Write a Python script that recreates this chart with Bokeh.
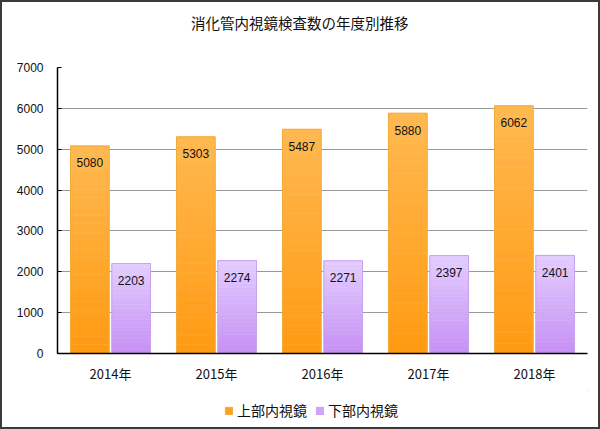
from bokeh.plotting import figure
from bokeh.layouts import column
from bokeh.models import (FactorRange, Range1d, ColumnDataSource, LabelSet, Label, Legend,
                          LegendItem, FixedTicker, GlobalInlineStyleSheet)
from bokeh.core.properties import value
from bokeh.transform import dodge
from bokeh.embed import file_html
from bokeh.resources import INLINE

# ---- data ----
years = ["2014年", "2015年", "2016年", "2017年", "2018年"]
upper = [5080, 5303, 5487, 5880, 6062]
lower = [2203, 2274, 2271, 2397, 2401]
series_names = ["上部内視鏡", "下部内視鏡"]
y_ticks = [0, 1000, 2000, 3000, 4000, 5000, 6000, 7000]
title_text = "消化管内視鏡検査数の年度別推移"

JP = "Noto Sans CJK JP"
LAT = "Liberation Sans"

# ---- title strip ----
p0 = figure(x_range=Range1d(0, 1), y_range=Range1d(0, 1), width=596, height=40,
            output_backend="svg", toolbar_location=None, x_axis_type=None, y_axis_type=None,
            min_border=0)
p0.outline_line_color = None
p0.xgrid.grid_line_color = None
p0.ygrid.grid_line_color = None
p0.add_layout(Label(x=0.457, y=0.5, text=title_text, text_align="center",
                    text_baseline="middle", text_font=JP, text_font_size="14.5px",
                    text_color="#111111"))

# ---- main chart ----
p = figure(x_range=FactorRange(factors=years, range_padding=0), y_range=(0, 7000),
           width=596, height=348, output_backend="svg", toolbar_location=None,
           min_border_left=55, min_border_right=11, min_border_top=25, min_border_bottom=37)
p.outline_line_color = None
p.background_fill_color = "white"
p.border_fill_color = "white"

def hex2rgb(h):
    return tuple(int(h[i:i + 2], 16) for i in (1, 3, 5))

def lerp(c1, c2, t):
    a, b = hex2rgb(c1), hex2rgb(c2)
    return "#%02x%02x%02x" % tuple(round(a[i] + (b[i] - a[i]) * t) for i in range(3))

N = 24
bar_w = 0.365
offs = [-0.195, 0.195]
values = [upper, lower]
bottom_cols = ["#ff9a12", "#c690f4"]
top_cols = ["#ffb951", "#e3cdff"]
edge_cols = ["#f2ac3a", "#c8a2ef"]
legend_fill = ["#ff9f1e", "#cfa6f8"]

for s in range(2):
    for k in range(N):
        src = ColumnDataSource(dict(
            x=years,
            bottom=[v * k / N for v in values[s]],
            top=[v * (k + 1) / N for v in values[s]],
        ))
        c = lerp(bottom_cols[s], top_cols[s], (k + 0.5) / N)
        p.vbar(x=dodge("x", offs[s], range=p.x_range), bottom="bottom", top="top",
               width=bar_w, fill_color=c, line_color=c, line_width=0.6, source=src)
    osrc = ColumnDataSource(dict(x=years, top=values[s], lab=[str(v) for v in values[s]]))
    p.vbar(x=dodge("x", offs[s], range=p.x_range), top="top", bottom=0, width=bar_w,
           fill_color=None, line_color=edge_cols[s], line_width=1, source=osrc)
    p.add_layout(LabelSet(x=dodge("x", offs[s], range=p.x_range), y="top", text="lab",
                          y_offset=-17, text_align="center", text_baseline="middle",
                          text_font_size="12px", text_font=value(LAT),
                          text_color="#111111", source=osrc))

# y axis
p.yaxis.ticker = FixedTicker(ticks=y_ticks)
p.ygrid.ticker = FixedTicker(ticks=y_ticks)
p.ygrid.grid_line_color = "#9a9a9a"
p.xgrid.grid_line_color = None
p.yaxis.major_tick_in = 4
p.yaxis.major_tick_out = 0
p.yaxis.minor_tick_line_color = None
p.yaxis.axis_line_color = "black"
p.yaxis.axis_line_width = 1.5
p.yaxis.major_tick_line_color = "black"
p.yaxis.major_label_standoff = 14
p.yaxis.major_label_text_font = LAT
p.yaxis.major_label_text_font_size = "12px"
p.yaxis.major_label_text_color = "#111111"

# x axis
p.xaxis.axis_line_color = "black"
p.xaxis.axis_line_width = 1.5
p.xaxis.major_tick_line_color = None
p.xaxis.major_label_standoff = 4
p.xaxis.major_label_text_font = JP
p.xaxis.major_label_text_font_size = "13px"
p.xaxis.major_label_text_color = "#111111"

# ---- legend strip ----
p2 = figure(x_range=Range1d(0, 1), y_range=Range1d(0, 1), width=596, height=37,
            output_backend="svg", toolbar_location=None, x_axis_type=None, y_axis_type=None,
            min_border=0)
p2.outline_line_color = None
p2.background_fill_color = "white"
p2.border_fill_color = "white"
p2.xgrid.grid_line_color = None
p2.ygrid.grid_line_color = None
items = []
for s in range(2):
    # swatch renderers kept outside the visible range; only their legend squares show
    r = p2.vbar(x=[5], top=[6], bottom=[5], width=0.1,
                fill_color=legend_fill[s], line_color=edge_cols[s])
    items.append(LegendItem(label=series_names[s], renderers=[r]))
legend = Legend(items=items, location=(167, 7), orientation="horizontal",
                glyph_width=9, glyph_height=9, label_text_font=JP,
                label_text_font_size="14px", label_text_color="#111111",
                border_line_color=None, background_fill_alpha=0,
                spacing=8, label_standoff=4, padding=0, margin=0)
p2.add_layout(legend, "center")

layout = column(p0, p, p2, spacing=0)
layout.stylesheets = [GlobalInlineStyleSheet(css="body{margin:0;}")]
layout.styles = {"border": "2px solid #3a3a3a"}

open("out.html", "w").write(file_html(layout, INLINE))
